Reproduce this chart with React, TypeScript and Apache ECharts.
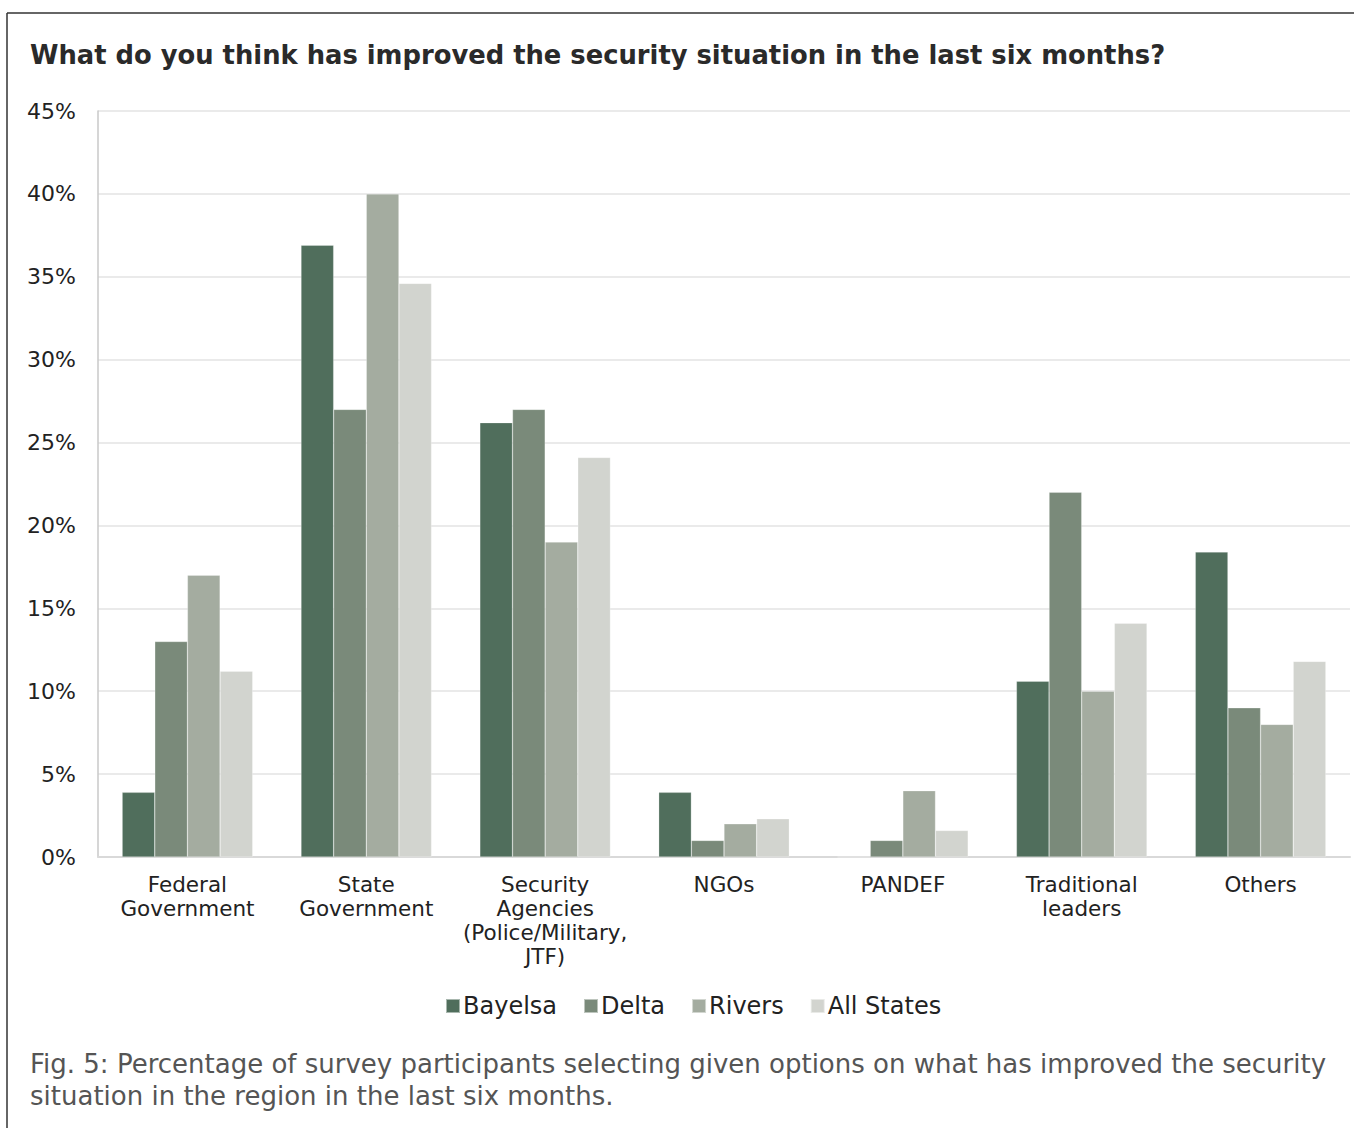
import React, { useEffect, useRef } from "react";
import * as echarts from "echarts";

const categories = [
  "Federal\nGovernment",
  "State\nGovernment",
  "Security\nAgencies\n(Police/Military,\nJTF)",
  "NGOs",
  "PANDEF",
  "Traditional\nleaders",
  "Others",
];
const seriesNames = ["Bayelsa", "Delta", "Rivers", "All States"];
const bayelsa = [3.9, 36.9, 26.2, 3.9, 0, 10.6, 18.4];
const delta = [13, 27, 27, 1, 1, 22, 9];
const rivers = [17, 40, 19, 2, 4, 10, 8];
const allStates = [11.2, 34.6, 24.1, 2.3, 1.6, 14.1, 11.8];
const colors = ["#506e5c", "#7a8a7a", "#a4aca0", "#d2d4cf"];
const yTicks = { min: 0, max: 45, interval: 5 };

const FONT = "'DejaVu Sans', sans-serif";

export default function App() {
  const ref = useRef<HTMLDivElement>(null);
  useEffect(() => {
    if (!ref.current) return;
    const chart = echarts.init(ref.current, undefined, { renderer: "svg" });
    const data = [bayelsa, delta, rivers, allStates];
    chart.setOption({
      animation: false,
      textStyle: { fontFamily: FONT },
      grid: { left: 98, right: 4, top: 111, bottom: 271, containLabel: false },
      legend: {
        data: seriesNames,
        left: 440,
        top: 989,
        itemWidth: 14,
        itemHeight: 14,
        itemGap: 26,
        icon: "rect",
        textStyle: { fontSize: 24, color: "#222", fontFamily: FONT, padding: [0, 0, 0, -2] },
      },
      xAxis: {
        type: "category",
        data: categories,
        axisLine: { lineStyle: { color: "#d9d9d9", width: 2 } },
        axisTick: { show: false },
        axisLabel: {
          interval: 0,
          fontSize: 21.5,
          lineHeight: 24,
          color: "#222",
          margin: 15,
          fontFamily: FONT,
        },
      },
      yAxis: {
        type: "value",
        min: yTicks.min,
        max: yTicks.max,
        interval: yTicks.interval,
        axisLine: { show: true, lineStyle: { color: "#c8c8c8", width: 1.5 } },
        axisTick: { show: false },
        splitLine: { lineStyle: { color: "#e3e3e3", width: 1.5 } },
        axisLabel: {
          formatter: "{value}%",
          fontSize: 22,
          color: "#222",
          margin: 22,
          fontFamily: FONT,
        },
      },
      series: seriesNames.map((name, i) => ({
        name,
        type: "bar",
        data: data[i],
        barGap: "0%",
        barCategoryGap: "27%",
        itemStyle: { color: colors[i], borderColor: "rgba(255,255,255,0.5)", borderWidth: 0.5 },
      })),
      graphic: [
        {
          type: "line",
          shape: { x1: 7, y1: 13, x2: 1354, y2: 13 },
          style: { stroke: "#333", lineWidth: 1.5 },
        },
        {
          type: "line",
          shape: { x1: 7, y1: 13, x2: 7, y2: 1128 },
          style: { stroke: "#333", lineWidth: 1.5 },
        },
        {
          type: "text",
          x: 30,
          y: 55,
          style: {
            text: "What do you think has improved the security situation in the last six months?",
            fontSize: 25.8,
            fontWeight: "bold",
            fill: "#2a2a2a",
            fontFamily: FONT,
            verticalAlign: "middle",
          },
        },
        {
          type: "text",
          x: 30,
          y: 1048,
          style: {
            text:
              "Fig. 5: Percentage of survey participants selecting given options on what has improved the security\nsituation in the region in the last six months.",
            fontSize: 26,
            lineHeight: 32,
            fill: "#555",
            fontFamily: FONT,
          },
        },
      ],
    });
    return () => chart.dispose();
  }, []);
  return (
    <div
      ref={ref}
      style={{ position: "fixed", left: 0, top: 0, width: 1354, height: 1128, background: "#fff" }}
    />
  );
}
